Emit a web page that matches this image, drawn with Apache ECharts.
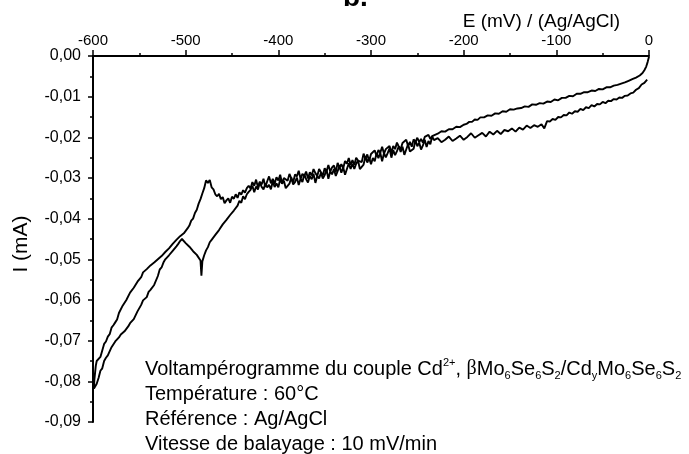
<!DOCTYPE html>
<html>
<head>
<meta charset="utf-8">
<script src="https://cdn.jsdelivr.net/npm/echarts@6/dist/echarts.min.js"></script>
<style>
  html, body { margin: 0; padding: 0; background: #fff; }
  #chart { width: 689px; height: 454px; }
</style>
</head>
<body>
<div id="chart"></div>
<script>
// Cyclic voltammogram, E in mV vs Ag/AgCl, I in mA.
// Cathodic sweep (0 -> -600 mV), split in three stretches.
const cathodicRight = [
  [-2,-0.0058],[-5,-0.0066],[-8,-0.0070],[-11,-0.0079],[-14,-0.0083],[-17,-0.0090],
  [-20,-0.0092],[-23,-0.0097],[-26,-0.0098],[-29,-0.0103],[-32,-0.0102],[-35,-0.0107],
  [-38,-0.0106],[-41,-0.0111],[-44,-0.0110],[-47,-0.0116],[-50,-0.0113],[-53,-0.0119],
  [-56,-0.0118],[-59,-0.0124],[-62,-0.0121],[-65,-0.0128],[-68,-0.0126],[-71,-0.0133],
  [-74,-0.0130],[-77,-0.0137],[-80,-0.0136],[-83,-0.0142],[-86,-0.0139],[-89,-0.0146],
  [-92,-0.0145],[-95,-0.0151],[-98,-0.0150],[-101,-0.0157],[-104,-0.0155],[-107,-0.0161],
  [-110,-0.0160],[-113,-0.0178],[-116,-0.0168],[-120,-0.0174],[-124,-0.0170],[-128,-0.0177],
  [-132,-0.0171],[-136,-0.0181],[-140,-0.0176],[-144,-0.0186],[-148,-0.0178],[-152,-0.0185],
  [-156,-0.0182],[-160,-0.0192],[-164,-0.0184],[-168,-0.0193],[-172,-0.0186],[-176,-0.0198],
  [-180,-0.0189],[-184,-0.0195],[-188,-0.0201],[-192,-0.0190],[-196,-0.0199],[-200,-0.0206],
  [-204,-0.0196],[-208,-0.0203],[-212,-0.0209],[-216,-0.0198],[-220,-0.0206],[-224,-0.0212],
  [-228,-0.0202]
];
const cathodicMiddle = [
  [-232,-0.0207],[-234,-0.0198],[-236,-0.0217],[-238,-0.0209],[-240,-0.0224],[-242,-0.0206],
  [-244,-0.0220],[-246,-0.0230],[-248,-0.0213],[-250,-0.0222],[-252,-0.0207],[-254,-0.0228],
  [-256,-0.0224],[-258,-0.0235],[-260,-0.0217],[-262,-0.0230],[-264,-0.0243],[-266,-0.0223],
  [-268,-0.0236],[-270,-0.0222],[-272,-0.0234],[-274,-0.0244],[-276,-0.0231],[-278,-0.0250],
  [-280,-0.0227],[-282,-0.0239],[-284,-0.0249],[-286,-0.0239],[-288,-0.0259],[-290,-0.0238],
  [-292,-0.0251],[-294,-0.0239],[-296,-0.0259],[-298,-0.0251],[-300,-0.0266],[-302,-0.0250],
  [-304,-0.0262],[-306,-0.0247],[-308,-0.0267],[-310,-0.0264],[-312,-0.0278],[-314,-0.0257],
  [-316,-0.0265],[-318,-0.0278],[-320,-0.0265],[-322,-0.0278],[-324,-0.0264],[-326,-0.0278],
  [-328,-0.0292],[-330,-0.0274],[-332,-0.0287],[-334,-0.0271],[-336,-0.0283],[-338,-0.0295],
  [-340,-0.0278],[-342,-0.0291],[-344,-0.0284],[-346,-0.0302],[-348,-0.0279],[-350,-0.0293],
  [-352,-0.0301],[-354,-0.0287],[-356,-0.0301],[-358,-0.0295],[-360,-0.0312],[-362,-0.0290],
  [-364,-0.0303],[-366,-0.0295],[-368,-0.0311],[-370,-0.0303],[-372,-0.0291],[-374,-0.0310],
  [-376,-0.0302],[-378,-0.0317],[-380,-0.0299],[-382,-0.0310],[-384,-0.0316],[-386,-0.0299],
  [-388,-0.0314],[-390,-0.0310],[-392,-0.0325],[-394,-0.0307],[-396,-0.0314],[-398,-0.0303],
  [-400,-0.0323],[-402,-0.0313],[-404,-0.0322],[-406,-0.0308],[-408,-0.0328],[-410,-0.0317],
  [-412,-0.0323],[-414,-0.0314],[-416,-0.0328],[-418,-0.0322],[-420,-0.0311],[-422,-0.0328],
  [-424,-0.0321],[-426,-0.0335],[-428,-0.0319],[-430,-0.0329],[-432,-0.0334]
];
const cathodicLeft = [
  [-434,-0.0340],[-436,-0.0352],[-438,-0.0345],[-440,-0.0361],[-442,-0.0356],[-444,-0.0368],
  [-446,-0.0365],[-448,-0.0380],[-450,-0.0377],[-452,-0.0391],[-454,-0.0388],[-456,-0.0403],
  [-458,-0.0400],[-460,-0.0414],[-462,-0.0412],[-464,-0.0428],[-466,-0.0424],[-468,-0.0440],
  [-470,-0.0437],[-472,-0.0452],[-474,-0.0458],[-476,-0.0470],[-478,-0.0478],[-480,-0.0490],
  [-482,-0.0505],[-483,-0.0540],[-484,-0.0503],[-486,-0.0500],[-488,-0.0489],[-490,-0.0492],
  [-492,-0.0480],[-494,-0.0483],[-496,-0.0469],[-498,-0.0472],[-500,-0.0460],[-502,-0.0463],
  [-504,-0.0450],[-506,-0.0455],[-508,-0.0462],[-510,-0.0468],[-512,-0.0466],[-514,-0.0479],
  [-516,-0.0476],[-518,-0.0490],[-520,-0.0487],[-522,-0.0500],[-524,-0.0508],[-526,-0.0520],
  [-528,-0.0525],[-530,-0.0541],[-532,-0.0545],[-534,-0.0563],[-536,-0.0562],[-538,-0.0575],
  [-540,-0.0580],[-542,-0.0593],[-544,-0.0594],[-546,-0.0601],[-548,-0.0612],[-550,-0.0614],
  [-552,-0.0628],[-554,-0.0630],[-556,-0.0647],[-558,-0.0645],[-560,-0.0657],[-562,-0.0665],
  [-564,-0.0663],[-566,-0.0677],[-568,-0.0680],[-570,-0.0685],[-572,-0.0692],[-574,-0.0690],
  [-576,-0.0702],[-578,-0.0705],[-580,-0.0716],[-582,-0.0720],[-584,-0.0736],[-586,-0.0742],
  [-588,-0.0750],[-590,-0.0768],[-592,-0.0774],[-594,-0.0792],[-596,-0.0806],[-598,-0.0814],
  [-599,-0.0818]
];

// Anodic sweep (-600 -> 0 mV), in the order it was recorded.
const anodicLeft = [
  [-599,-0.0818],[-598.5,-0.0795],[-597,-0.0762],[-596,-0.0750],[-594,-0.0748],[-592,-0.0740],
  [-590,-0.0724],[-588,-0.0708],[-586,-0.0702],[-584,-0.0690],[-582,-0.0684],[-580,-0.0668],
  [-578,-0.0662],[-576,-0.0655],[-574,-0.0648],[-572,-0.0632],[-570,-0.0630],[-568,-0.0614],
  [-566,-0.0612],[-564,-0.0600],[-562,-0.0598],[-560,-0.0582],[-558,-0.0580],[-556,-0.0570],
  [-554,-0.0567],[-552,-0.0555],[-550,-0.0551],[-548,-0.0544],[-546,-0.0532],[-544,-0.0536],
  [-542,-0.0524],[-540,-0.0526],[-538,-0.0515],[-536,-0.0519],[-534,-0.0508],[-532,-0.0511],
  [-530,-0.0500],[-528,-0.0503],[-526,-0.0492],[-524,-0.0494],[-522,-0.0482],[-520,-0.0485],
  [-518,-0.0473],[-516,-0.0476],[-514,-0.0462],[-512,-0.0466],[-510,-0.0452],[-508,-0.0456],
  [-506,-0.0443],[-504,-0.0447],[-502,-0.0436],[-500,-0.0432],[-498,-0.0424],[-496,-0.0417],
  [-494,-0.0405],[-492,-0.0400],[-490,-0.0386],[-488,-0.0378],[-486,-0.0363],[-484,-0.0352],
  [-482,-0.0338],[-480,-0.0325],[-478,-0.0306],[-477,-0.0302],[-476,-0.0312],[-474,-0.0305],
  [-472,-0.0323],[-470,-0.0328],[-468,-0.0340],[-466,-0.0345],[-464,-0.0339],[-462,-0.0352],
  [-460,-0.0347],[-458,-0.0362],[-456,-0.0355],[-454,-0.0350],[-452,-0.0361],[-450,-0.0346],
  [-448,-0.0351],[-446,-0.0340],[-444,-0.0349],[-442,-0.0335],[-440,-0.0341],[-438,-0.0330],
  [-436,-0.0336],[-434,-0.0325]
];
const anodicMiddle = [
  [-432,-0.0319],[-430,-0.0326],[-428,-0.0310],[-426,-0.0319],[-424,-0.0304],[-422,-0.0323],
  [-420,-0.0309],[-418,-0.0316],[-416,-0.0302],[-414,-0.0322],[-412,-0.0308],[-410,-0.0296],
  [-408,-0.0313],[-406,-0.0302],[-404,-0.0314],[-402,-0.0298],[-400,-0.0306],[-398,-0.0292],
  [-396,-0.0313],[-394,-0.0300],[-392,-0.0296],[-390,-0.0307],[-388,-0.0290],[-386,-0.0301],
  [-384,-0.0311],[-382,-0.0291],[-380,-0.0296],[-378,-0.0282],[-376,-0.0302],[-374,-0.0290],
  [-372,-0.0295],[-370,-0.0284],[-368,-0.0301],[-366,-0.0286],[-364,-0.0294],[-362,-0.0278],
  [-360,-0.0288],[-358,-0.0295],[-356,-0.0278],[-354,-0.0282],[-352,-0.0294],[-350,-0.0276],
  [-348,-0.0284],[-346,-0.0268],[-344,-0.0284],[-342,-0.0274],[-340,-0.0269],[-338,-0.0285],
  [-336,-0.0263],[-334,-0.0274],[-332,-0.0266],[-330,-0.0276],[-328,-0.0258],[-326,-0.0265],
  [-324,-0.0251],[-322,-0.0268],[-320,-0.0256],[-318,-0.0268],[-316,-0.0250],[-314,-0.0257],
  [-312,-0.0253],[-310,-0.0261],[-308,-0.0240],[-306,-0.0253],[-304,-0.0242],[-302,-0.0258],
  [-300,-0.0241],[-298,-0.0243],[-296,-0.0232],[-294,-0.0246],[-292,-0.0231],[-290,-0.0238],
  [-288,-0.0223],[-286,-0.0240],[-284,-0.0229],[-282,-0.0229],[-280,-0.0221],[-278,-0.0238],
  [-276,-0.0221],[-274,-0.0229],[-272,-0.0213],[-270,-0.0223],[-268,-0.0229],[-266,-0.0214],
  [-264,-0.0216],[-262,-0.0206],[-260,-0.0221],[-258,-0.0211],[-256,-0.0223],[-254,-0.0205],
  [-252,-0.0211],[-250,-0.0201],[-248,-0.0212],[-246,-0.0204],[-244,-0.0213],[-242,-0.0199],
  [-240,-0.0202],[-238,-0.0194],[-236,-0.0204],[-234,-0.0197],[-232,-0.0200]
];
const anodicRight = [
  [-228,-0.0191],[-224,-0.0185],[-220,-0.0186],[-216,-0.0180],[-212,-0.0180],[-208,-0.0174],
  [-204,-0.0175],[-200,-0.0169],[-197,-0.0167],[-194,-0.0162],[-191,-0.0162],[-188,-0.0156],
  [-185,-0.0157],[-182,-0.0151],[-178,-0.0151],[-174,-0.0146],[-170,-0.0147],[-166,-0.0141],
  [-162,-0.0142],[-158,-0.0136],[-154,-0.0137],[-150,-0.0131],[-146,-0.0132],[-142,-0.0129],
  [-138,-0.0128],[-134,-0.0124],[-130,-0.0125],[-126,-0.0119],[-122,-0.0120],[-118,-0.0116],
  [-114,-0.0117],[-110,-0.0112],[-106,-0.0113],[-102,-0.0107],[-98,-0.0109],[-94,-0.0103],
  [-90,-0.0103],[-86,-0.0098],[-82,-0.0099],[-78,-0.0093],[-74,-0.0093],[-70,-0.0089],
  [-66,-0.0089],[-62,-0.0085],[-58,-0.0086],[-54,-0.0081],[-50,-0.0082],[-46,-0.0077],
  [-42,-0.0077],[-38,-0.0073],[-34,-0.0071],[-30,-0.0068],[-26,-0.0065],[-22,-0.0061],
  [-18,-0.0057],[-14,-0.0053],[-10,-0.0048],[-7,-0.0042],[-5,-0.0035],[-3,-0.0026],
  [-1.5,-0.0015],[0,-0.0002]
];

// Axis ranges
const eMin = -600, eMax = 0, eStep = 100;
const iMin = -0.09, iMax = 0, iStep = 0.01;

// Caption lines
const captionLines = [
  'Voltampérogramme du couple Cd{sup|2+}, {beta|β}Mo{sub|6}Se{sub|6}S{sub|2}/Cd{sub|y}Mo{sub|6}Se{sub|6}S{sub|2}',
  'Température : 60°C',
  'Référence : Ag/AgCl',
  'Vitesse de balayage : 10 mV/min'
];

const FONT = 'Liberation Sans, Arial, Helvetica, sans-serif';
const chart = echarts.init(document.getElementById('chart'), null, { renderer: 'canvas' });

const captionTop = 369, captionStep = 25;
const captionGraphics = captionLines.map((t, k) => ({
  type: 'text',
  x: 145,
  y: captionTop + k * captionStep,
  style: {
    text: t,
    fontFamily: FONT,
    fontSize: 20,
    fill: '#000',
    align: 'left',
    verticalAlign: 'middle',
    lineHeight: 24,
    rich: {
      sup: { fontSize: 11, fontFamily: FONT, fill: '#000', verticalAlign: 'top', lineHeight: 11 },
      sub: { fontSize: 11, fontFamily: FONT, fill: '#000', verticalAlign: 'bottom', lineHeight: 11 },
      beta: { fontSize: 20, fontFamily: 'Liberation Serif, serif', fill: '#000' }
    }
  }
}));

const lineSeries = (name, data) => ({
  name,
  type: 'line',
  data,
  showSymbol: false,
  symbol: 'none',
  lineStyle: { color: '#000', width: 1.9 },
  itemStyle: { color: '#000' },
  animation: false,
  z: 3
});

chart.setOption({
  backgroundColor: '#fff',
  animation: false,
  title: {
    text: 'b.',
    left: 343,
    top: -16,
    padding: 0,
    textStyle: { fontSize: 28, fontWeight: 'bold', color: '#000', fontFamily: FONT }
  },
  grid: { left: 93, right: 40, top: 56, bottom: 32, containLabel: false },
  xAxis: {
    type: 'value',
    position: 'top',
    min: eMin, max: eMax, interval: eStep,
    name: 'E (mV) / (Ag/AgCl)',
    nameLocation: 'end',
    nameGap: -29,
    nameTextStyle: {
      fontSize: 19, color: '#000', fontFamily: FONT,
      align: 'right', verticalAlign: 'bottom', padding: [0, 0, 25, 0]
    },
    axisLine: { show: true, onZero: false, lineStyle: { color: '#000', width: 2 } },
    axisTick: { show: true, inside: false, length: 6, lineStyle: { color: '#000', width: 1.5 } },
    minorTick: { show: true, splitNumber: 2, length: 3, lineStyle: { color: '#000', width: 1.5 } },
    axisLabel: { color: '#000', fontSize: 15, fontFamily: FONT, margin: 8, showMinLabel: true, showMaxLabel: true },
    splitLine: { show: false },
    minorSplitLine: { show: false }
  },
  yAxis: {
    type: 'value',
    min: iMin, max: iMax, interval: iStep,
    name: 'I (mA)',
    nameLocation: 'middle',
    nameRotate: 90,
    nameGap: 61,
    nameTextStyle: { fontSize: 21, color: '#000', fontFamily: FONT, padding: [0, 10, 0, 0] },
    axisLine: { show: true, onZero: false, lineStyle: { color: '#000', width: 2 } },
    axisTick: { show: true, inside: false, length: 5, lineStyle: { color: '#000', width: 1.5 } },
    minorTick: { show: true, splitNumber: 2, length: 3, lineStyle: { color: '#000', width: 1.5 } },
    axisLabel: {
      color: '#000', fontSize: 16, fontFamily: FONT, margin: 12,
      showMinLabel: true, showMaxLabel: true,
      formatter: v => {
        const s = Math.abs(v) < 1e-9 ? '0.00' : v.toFixed(2);
        return s.replace('.', ',');
      }
    },
    splitLine: { show: false },
    minorSplitLine: { show: false }
  },
  series: [
    lineSeries('Balayage cathodique', cathodicRight.concat(cathodicMiddle, cathodicLeft)),
    lineSeries('Balayage anodique', anodicLeft.concat(anodicMiddle, anodicRight))
  ],
  graphic: captionGraphics
});
</script>
</body>
</html>
